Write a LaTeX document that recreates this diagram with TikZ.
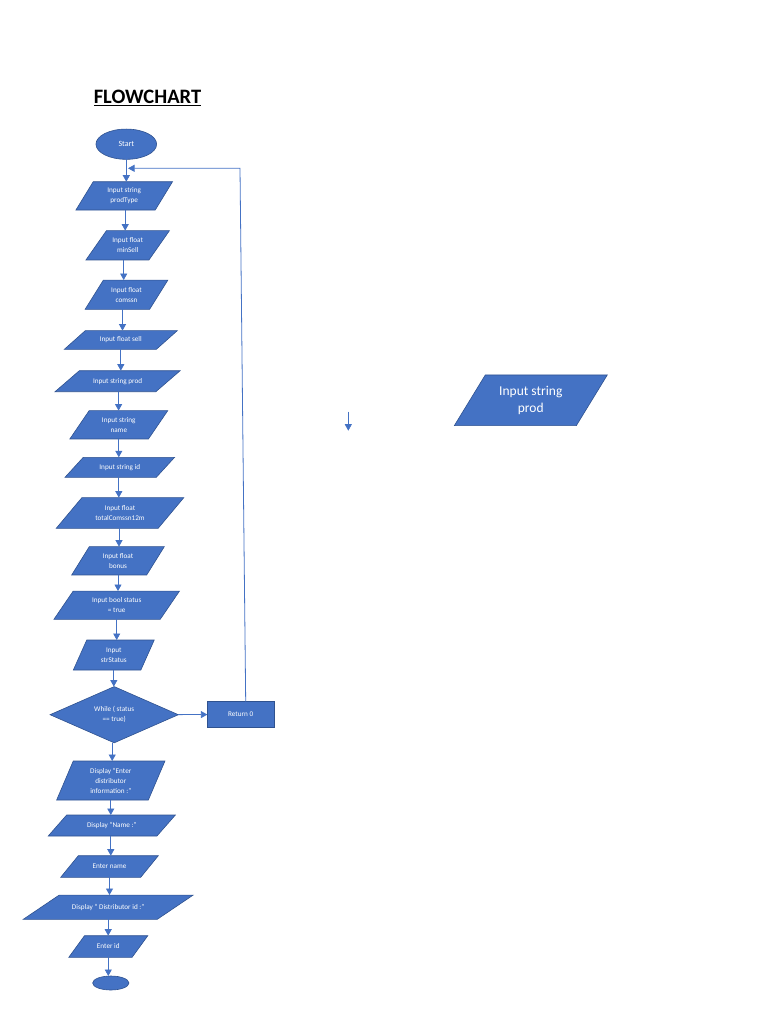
\documentclass[tikz,border=0pt]{standalone}
\usepackage{fontspec}
\setmainfont{Carlito}
\usetikzlibrary{arrows.meta,shapes.geometric}
\definecolor{boxblue}{HTML}{4472C4}
\definecolor{edgeblue}{HTML}{2F528F}
\definecolor{lineblue}{HTML}{4472C4}
% [node options], name, x, y, side, height, slant, text
\newcommand{\ioshape}[8][]{%
	\filldraw[iobox] (#3-#5/2+#7/2,#4-#6/2) -- ++(#5,0) -- ++(-#7,#6) -- ++(-#5,0) -- cycle;
	\node[iotext,minimum width=#5,minimum height=#6,#1] (#2) at (#3,#4) {#8};}
\begin{document}
\begin{tikzpicture}[x=1pt,y=-1pt,
		iobox/.style={fill=boxblue,draw=edgeblue,line width=0.6pt},
		iotext/.style={text=white,font=\fontsize{7.2}{10}\selectfont,align=center,inner sep=0pt,outer sep=0pt},
		flow/.style={draw=lineblue,line width=0.8pt,-{Triangle[length=6.5pt,width=7pt]}}]
		\useasboundingbox (0,0) rectangle (768,1024);
		\node[font=\fontsize{20.5}{24}\selectfont\bfseries] (title) at (147.5,98) {\underline{FLOWCHART}};
		\node[ellipse,iobox,iotext,minimum width=60.7,minimum height=30.3,font=\fontsize{8}{10}\selectfont] (start) at (126.3,144.2) {Start};
		\ioshape{prodtype}{124.2}{195.9}{79.3}{28.3}{17.3}{Input string\\prodType}
		\ioshape{minsell}{127.7}{245.3}{63}{29.3}{20.5}{Input float\\minSell}
		\ioshape{comssn}{126.5}{294.7}{64.5}{29.3}{18.3}{Input float\\comssn}
		\ioshape{sell}{120.8}{340}{92}{18.7}{21}{Input float sell}
		\ioshape{prod}{117.6}{381.2}{100.8}{21}{24.3}{Input string prod}
		\ioshape{name}{118.8}{424.8}{78.6}{28.3}{19.3}{Input string\\name}
		\ioshape{id}{119.8}{467.3}{91.3}{20}{18.3}{Input string id}
		\ioshape{total}{120}{513}{101.9}{30.7}{25.7}{Input float\\totalComssn12m}
		\ioshape{bonus}{118}{560.8}{75}{28.3}{17.6}{Input float\\bonus}
		\ioshape{status}{116.7}{605.2}{106.3}{28.3}{19.3}{Input bool status\\= true}
		\ioshape{strstatus}{113.8}{655}{67.5}{30}{13.4}{Input\\strStatus}
		\node[diamond,iobox,iotext,minimum width=128.3,minimum height=54] (loop) at (114.2,714.7) {While ( status\\== true)};
		\node[rectangle,iobox,iotext,draw=edgeblue,line width=1pt,minimum width=66.7,minimum height=25.6] (ret) at (240.7,714.5) {Return 0};
		\ioshape{enter}{110.8}{780.5}{91.7}{39}{16.6}{Display “Enter\\distributor\\information :”}
		\ioshape{showname}{111.8}{825.5}{108.7}{21}{18.4}{Display “Name :”}
		\ioshape{entername}{109.5}{866.5}{80}{21.6}{17.6}{Enter name}
		\ioshape{showid}{108.2}{907.2}{134}{24.3}{36}{Display “ Distributor id :”}
		\ioshape{enterid}{108.3}{946.5}{63.3}{21.6}{15.7}{Enter id}
		\node[ellipse,iobox,minimum width=36.3,minimum height=14,inner sep=0pt,outer sep=0pt] (stop) at (110.8,983) {};
		\ioshape[font=\fontsize{13.5}{17}\selectfont]{bigprod}{530.8}{400.3}{122}{50.7}{31}{Input string\\prod}
		\coordinate (loopturn) at (240,168.3);
		\coordinate (loopend) at (128,168.3);
		\coordinate (straytop) at (348.3,411.7);
		\coordinate (straybot) at (348.3,430.7);
		\draw[flow] (start.south) -- (start.south |- prodtype.north);
		\draw[flow] ([xshift=1pt]prodtype.south) -- ([xshift=1pt]prodtype.south |- minsell.north);
		\draw[flow] ([xshift=-4pt]minsell.south) -- ([xshift=-4pt]minsell.south |- comssn.north);
		\draw[flow] ([xshift=-4pt]comssn.south) -- ([xshift=-4pt]comssn.south |- sell.north);
		\draw[flow] (sell.south) -- (sell.south |- prod.north);
		\draw[flow] ([xshift=1pt]prod.south) -- ([xshift=1pt]prod.south |- name.north);
		\draw[flow] (name.south) -- (name.south |- id.north);
		\draw[flow] ([xshift=-1pt]id.south) -- ([xshift=-1pt]id.south |- total.north);
		\draw[flow] ([xshift=-1pt]total.south) -- ([xshift=-1pt]total.south |- bonus.north);
		\draw[flow] (bonus.south) -- (bonus.south |- status.north);
		\draw[flow] (status.south) -- (status.south |- strstatus.north);
		\draw[flow] (strstatus.south) -- (strstatus.south |- loop.north);
		\draw[flow] (loop) -- (ret);
		\draw[flow] ([xshift=-2pt]loop.south) -- ([xshift=-2pt]loop.south |- enter.north);
		\draw[flow] (enter.south) -- (enter.south |- showname.north);
		\draw[flow] ([xshift=-1pt]showname.south) -- ([xshift=-1pt]showname.south |- entername.north);
		\draw[flow] (entername.south) -- (entername.south |- showid.north);
		\draw[flow] (showid.south) -- (showid.south |- enterid.north);
		\draw[flow] (enterid.south) -- (enterid.south |- stop.north);
		\draw[flow] ([xshift=5pt]ret.north) -- (loopturn) -- (loopend);
		\draw[flow,line width=0.6pt] (straytop) -- (straybot);
	\end{tikzpicture}
\end{document}
